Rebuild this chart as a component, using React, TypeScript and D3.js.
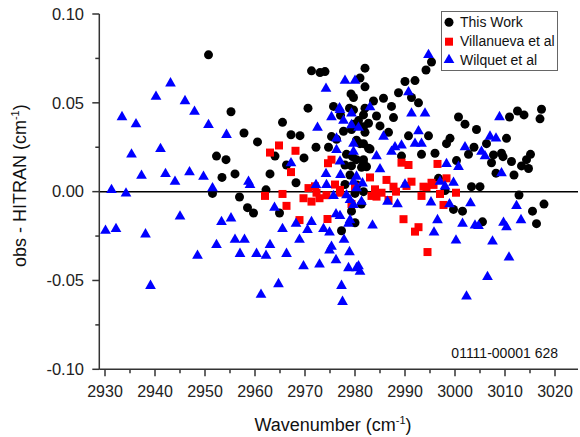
import React from "react";
import * as d3 from "d3";

// ---- data ----
const thisWork: [number, number][] = [
  [2950.7, 0.077], [2955.2, 0.045], [2957.8, 0.033], [2952.3, 0.020], [2954.2, 0.018],
  [2953.4, 0.008], [2956.0, 0.010], [2951.5, -0.001], [2956.9, -0.003], [2958.5, -0.009],
  [2959.7, -0.012], [2960.5, 0.028], [2962.2, 0.001], [2963.0, 0.010], [2964.0, 0.020],
  [2964.9, -0.012], [2965.5, 0.039], [2966.3, 0.015], [2967.2, 0.032], [2968.2, 0.005],
  [2969.0, 0.0315], [2969.8, 0.019], [2970.6, 0.047], [2971.3, 0.068], [2973.0, 0.067],
  [2974.0, 0.0676], [2972.2, 0.025], [2974.7, 0.025], [2975.7, 0.048], [2978.9, 0.047],
  [2979.2, 0.055], [2979.7, 0.053], [2977.1, 0.043], [2980.7, 0.040], [2982.7, 0.0385],
  [2979.3, 0.035], [2977.7, 0.034], [2976.3, 0.0295], [2975.3, 0.031], [2981.0, 0.027],
  [2981.7, 0.027], [2983.0, 0.024], [2978.3, 0.021], [2980.3, 0.018], [2981.7, 0.018],
  [2979.3, 0.0145], [2981.3, 0.0137], [2982.3, 0.014], [2978.0, 0.004], [2980.0, -0.001],
  [2981.7, 0.000], [2981.3, -0.007], [2979.3, -0.011], [2980.0, -0.0175], [2977.3, -0.022],
  [2982.0, 0.0695], [2981.0, 0.064], [2982.0, 0.059], [2990.0, 0.062], [2992.0, 0.0625],
  [2988.7, 0.0557], [2991.3, 0.053], [2983.7, 0.051], [2985.7, 0.0526], [2992.7, 0.050],
  [2987.3, 0.048], [2982.0, 0.047], [2979.7, 0.046], [2984.3, 0.0426], [2981.7, 0.0432],
  [2987.7, 0.0417], [3000.7, 0.042], [3002.0, 0.038], [2981.7, 0.0366], [2985.0, 0.037],
  [2982.0, 0.0334], [2986.7, 0.0334], [2990.7, 0.0314], [2994.7, 0.0314], [2999.0, 0.030],
  [2998.3, 0.027], [2993.3, 0.021], [2996.0, 0.0216], [2989.3, 0.020], [3000.3, 0.0175],
  [2996.7, 0.0075], [2995.3, 0.073], [2994.2, 0.0685], [2979.7, 0.038], [2980.3, 0.029],
  [2982.7, 0.0244], [2981.7, 0.016], [2979.5, 0.0197], [2998.0, 0.0006], [2999.7, -0.010],
  [3001.5, -0.011], [3017.3, 0.0464], [3017.0, 0.041], [3012.5, 0.0454], [3013.8, 0.0432],
  [3010.9, 0.042], [3004.3, 0.035], [3010.3, 0.030], [3006.3, 0.027], [3003.8, 0.025],
  [3002.7, 0.021], [3007.7, 0.0207], [3009.3, 0.0216], [3009.6, 0.0197], [3007.3, 0.0163],
  [3011.3, 0.017], [3015.1, 0.021], [3014.3, 0.018], [3013.3, 0.0145], [3014.7, 0.013],
  [3008.2, 0.0104], [3011.8, 0.0094], [3003.3, 0.0028], [3005.0, 0.0028], [3012.8, -0.0019],
  [3017.8, -0.007], [3015.5, -0.011], [3005.5, -0.017], [3016.3, -0.018], [2978.0, 0.015],
  [2979.0, 0.0094], [2980.4, 0.0038],
];

const villanueva: [number, number][] = [
  [2964.8, 0.026], [2963.0, 0.022], [2968.1, 0.023], [2967.2, 0.011], [2970.7, 0.002],
  [2976.0, 0.004], [2962.0, -0.0024], [2965.5, -0.0013], [2969.7, -0.0037], [2971.3, -0.0056],
  [2972.9, -0.0037], [2972.3, -0.0006], [2977.0, -0.0006], [2966.3, -0.008], [2968.9, -0.016],
  [2974.5, -0.0154], [2975.3, 0.018], [2974.6, 0.016], [2983.0, 0.008], [2986.3, 0.0066],
  [2989.3, 0.0163], [2990.7, 0.015], [2996.5, 0.0156], [2991.3, 0.0056], [2993.7, 0.0028],
  [2995.3, 0.005], [2998.3, 0.0075], [2980.0, 0.0028], [2987.7, 0.0028], [2988.2, 0.000],
  [2984.3, -0.0028], [2985.3, -0.0006], [2986.7, -0.0047], [2993.3, -0.0024], [2994.3, 0.0025],
  [2995.7, 0.0038], [2997.0, -0.0013], [2997.7, -0.0075], [3000.2, -0.0006], [2989.7, -0.0155],
  [2992.7, -0.020], [2992.0, -0.0225], [2994.5, -0.034], [2979.3, -0.007], [2972.0, 0.003],
  [2977.0, 0.001], [2984.0, 0.0013], [2983.3, -0.0024], [2974.3, -0.002], [2990.3, 0.0032],
];

const wilquet: [number, number][] = [
  [2930.1, -0.022], [2931.3, 0.001], [2932.2, -0.021], [2933.4, 0.042], [2934.2, -0.001],
  [2935.3, 0.021], [2936.2, 0.038], [2937.3, 0.009], [2938.1, -0.024], [2939.1, -0.053],
  [2940.2, 0.0535], [2941.1, 0.024], [2942.1, 0.010], [2943.1, 0.061], [2944.0, 0.0056],
  [2945.0, -0.014], [2946.0, 0.051], [2946.9, 0.011], [2947.9, 0.045], [2948.5, -0.036],
  [2950.7, 0.0376], [2954.3, 0.032], [2949.7, 0.0084], [2951.5, 0.002], [2958.7, 0.0056],
  [2953.3, -0.017], [2955.2, -0.015], [2956.0, -0.027], [2957.9, -0.027], [2952.3, -0.030],
  [2957.0, -0.035], [2978.0, 0.0625], [2980.0, 0.0625], [2974.2, 0.058], [2976.9, 0.047],
  [2975.3, 0.042], [2977.7, 0.040], [2972.5, 0.036], [2976.3, 0.030], [2967.2, 0.016],
  [2974.2, 0.010], [2972.2, 0.0038], [2974.3, 0.0038], [2959.0, 0.0038], [2963.9, -0.009],
  [2971.3, -0.017], [2968.2, -0.018], [2965.5, -0.021], [2970.5, -0.0216], [2973.7, -0.021],
  [2974.9, -0.023], [2976.2, -0.0127], [2977.0, -0.0137], [2978.7, -0.018], [2968.9, -0.027],
  [2977.8, -0.027], [2963.0, -0.030], [2975.3, -0.031], [2974.9, -0.033], [2960.3, -0.035],
  [2962.2, -0.036], [2966.3, -0.035], [2978.9, -0.034], [2976.2, -0.0385], [2969.7, -0.042],
  [2972.9, -0.041], [2978.7, -0.043], [2980.3, -0.043], [2964.7, -0.052], [2977.3, -0.053],
  [2961.2, -0.058], [2977.5, -0.062], [2994.7, 0.077], [2990.7, 0.056], [2983.0, 0.0475],
  [2991.3, 0.044], [2994.0, 0.044], [2979.3, 0.044], [2977.0, 0.046], [2979.3, 0.0375],
  [2980.7, 0.036], [2992.7, 0.034], [2985.7, 0.031], [2988.0, 0.025], [2989.3, 0.026],
  [2992.0, 0.027], [2993.3, 0.027], [3002.0, 0.025], [2987.3, 0.0225], [2984.3, 0.020],
  [2998.3, 0.0156], [3000.7, 0.014], [2985.0, 0.0126], [2990.0, 0.004], [2997.0, 0.0056],
  [2999.7, 0.005], [2998.0, 0.003], [2980.3, 0.0085], [2981.5, 0.0047], [2979.7, 0.027],
  [2976.3, 0.0235], [2977.0, 0.017], [2979.7, 0.0225], [2977.1, 0.0094], [2979.7, 0.0056],
  [2980.3, 0.002], [2975.7, -0.0024], [2978.3, -0.002], [2979.0, -0.0047], [2981.3, -0.0056],
  [2979.7, -0.0075], [2986.5, -0.0056], [2988.5, -0.007], [2995.2, -0.006], [2998.9, -0.007],
  [2983.5, -0.019], [2996.5, -0.016], [3001.5, -0.018], [2995.8, -0.023], [3000.2, -0.0275],
  [2980.7, -0.042], [2981.0, -0.045], [3002.3, -0.059], [3008.9, 0.042], [3007.0, 0.031],
  [3008.2, 0.030], [3005.3, 0.0225], [3006.0, 0.020], [3009.3, 0.0104], [3003.1, -0.0065],
  [3012.3, -0.008], [3004.0, -0.019], [3004.7, -0.0193], [3009.7, -0.0175], [3010.3, -0.020],
  [3013.2, -0.016], [3007.5, -0.028], [3010.8, -0.037], [3006.5, -0.048], [2979.0, -0.016],
];

const xTicks = [2930, 2940, 2950, 2960, 2970, 2980, 2990, 3000, 3010, 3020];
const xMinorTicks = [2935, 2945, 2955, 2965, 2975, 2985, 2995, 3005, 3015];
const yTicks = [0.1, 0.05, 0, -0.05, -0.1];
const yTickLabels = ["0.10", "0.05", "0.00", "-0.05", "-0.10"];
const yMinorTicks = [0.075, 0.025, -0.025, -0.075];
const seriesNames = ["This Work", "Villanueva et al", "Wilquet et al"];
const footnote = "01111-00001 628";

const FONT = "Arial, 'Liberation Sans', Helvetica, sans-serif";

export default function App() {
  const x = d3.scaleLinear().domain([2930, 3020]).range([105, 555]);
  const y = d3.scaleLinear().domain([-0.1, 0.1]).range([369.3, 14]);
  const xLeft = 99.3;
  const xRight = 578;
  const yBottom = y(-0.1);

  const tri = d3.symbol().type(d3.symbolTriangle).size(50)() as string;
  const axisColor = "#333";

  return (
    <svg
      width={580}
      height={437}
      style={{ position: "absolute", left: 0, top: 0, background: "#fff" }}
      fontFamily={FONT}
    >
      <rect x={0} y={0} width={580} height={437} fill="#fff" />

      {/* zero line */}
      <line x1={xLeft} x2={xRight} y1={y(0)} y2={y(0)} stroke="#000" strokeWidth={1.5} />

      {/* points */}
      <g>
        {thisWork.map((d, i) => (
          <circle key={"b" + i} cx={x(d[0])} cy={y(d[1])} r={4.5} fill="#000" />
        ))}
      </g>
      <g>
        {villanueva.map((d, i) => (
          <rect key={"r" + i} x={x(d[0]) - 4} y={y(d[1]) - 4} width={8} height={8} fill="#ff0000" />
        ))}
      </g>
      <g>
        {wilquet.map((d, i) => (
          <path key={"t" + i} d={tri} transform={`translate(${x(d[0])},${y(d[1])})`} fill="#0000ff" />
        ))}
      </g>

      {/* y axis */}
      <line x1={xLeft} x2={xLeft} y1={y(0.1)} y2={yBottom} stroke={axisColor} strokeWidth={1.5} />
      {yTicks.map((t, i) => (
        <g key={"yt" + i}>
          <line x1={xLeft - 7} x2={xLeft} y1={y(t)} y2={y(t)} stroke={axisColor} strokeWidth={1.5} />
          <text x={84} y={y(t)} dy="0.35em" textAnchor="end" fontSize={16.5} fill="#222">
            {yTickLabels[i]}
          </text>
        </g>
      ))}
      {yMinorTicks.map((t, i) => (
        <line key={"ym" + i} x1={xLeft - 4} x2={xLeft} y1={y(t)} y2={y(t)} stroke={axisColor} strokeWidth={1.5} />
      ))}

      {/* x axis */}
      <line x1={xLeft} x2={xRight} y1={yBottom} y2={yBottom} stroke={axisColor} strokeWidth={1.5} />
      {xTicks.map((t) => (
        <g key={"xt" + t}>
          <line x1={x(t)} x2={x(t)} y1={yBottom} y2={yBottom + 7} stroke={axisColor} strokeWidth={1.5} />
          <text x={x(t)} y={yBottom + 22} dy="0.35em" textAnchor="middle" fontSize={16} fill="#222">
            {t}
          </text>
        </g>
      ))}
      {xMinorTicks.map((t) => (
        <line key={"xm" + t} x1={x(t)} x2={x(t)} y1={yBottom} y2={yBottom + 4} stroke={axisColor} strokeWidth={1.5} />
      ))}

      {/* axis titles */}
      <text x={333} y={431} textAnchor="middle" fontSize={18} fill="#111">
        Wavenumber (cm<tspan fontSize={11} dy={-7}>-1</tspan><tspan dy={7}>)</tspan>
      </text>
      <text
        transform={`translate(26,${y(0) - 6}) rotate(-90)`}
        textAnchor="middle"
        fontSize={18}
        fill="#111"
      >
        obs - HITRAN (cm<tspan fontSize={11} dy={-7}>-1</tspan><tspan dy={7}>)</tspan>
      </text>

      {/* footnote */}
      <text x={558} y={358} textAnchor="end" fontSize={14} fill="#111">
        {footnote}
      </text>

      {/* legend */}
      <g>
        <rect x={441.5} y={11.5} width={116} height={59} fill="#fff" stroke="#666" strokeWidth={1} />
        <circle cx={449} cy={22.3} r={4.5} fill="#000" />
        <rect x={445} y={37.7} width={8} height={8} fill="#ff0000" />
        <path d={tri} transform={`translate(449,60)`} fill="#0000ff" />
        {seriesNames.map((s, i) => (
          <text key={s} x={460} y={22.3 + i * 18.8} dy="0.35em" fontSize={14} fill="#111">
            {s}
          </text>
        ))}
      </g>
    </svg>
  );
}
